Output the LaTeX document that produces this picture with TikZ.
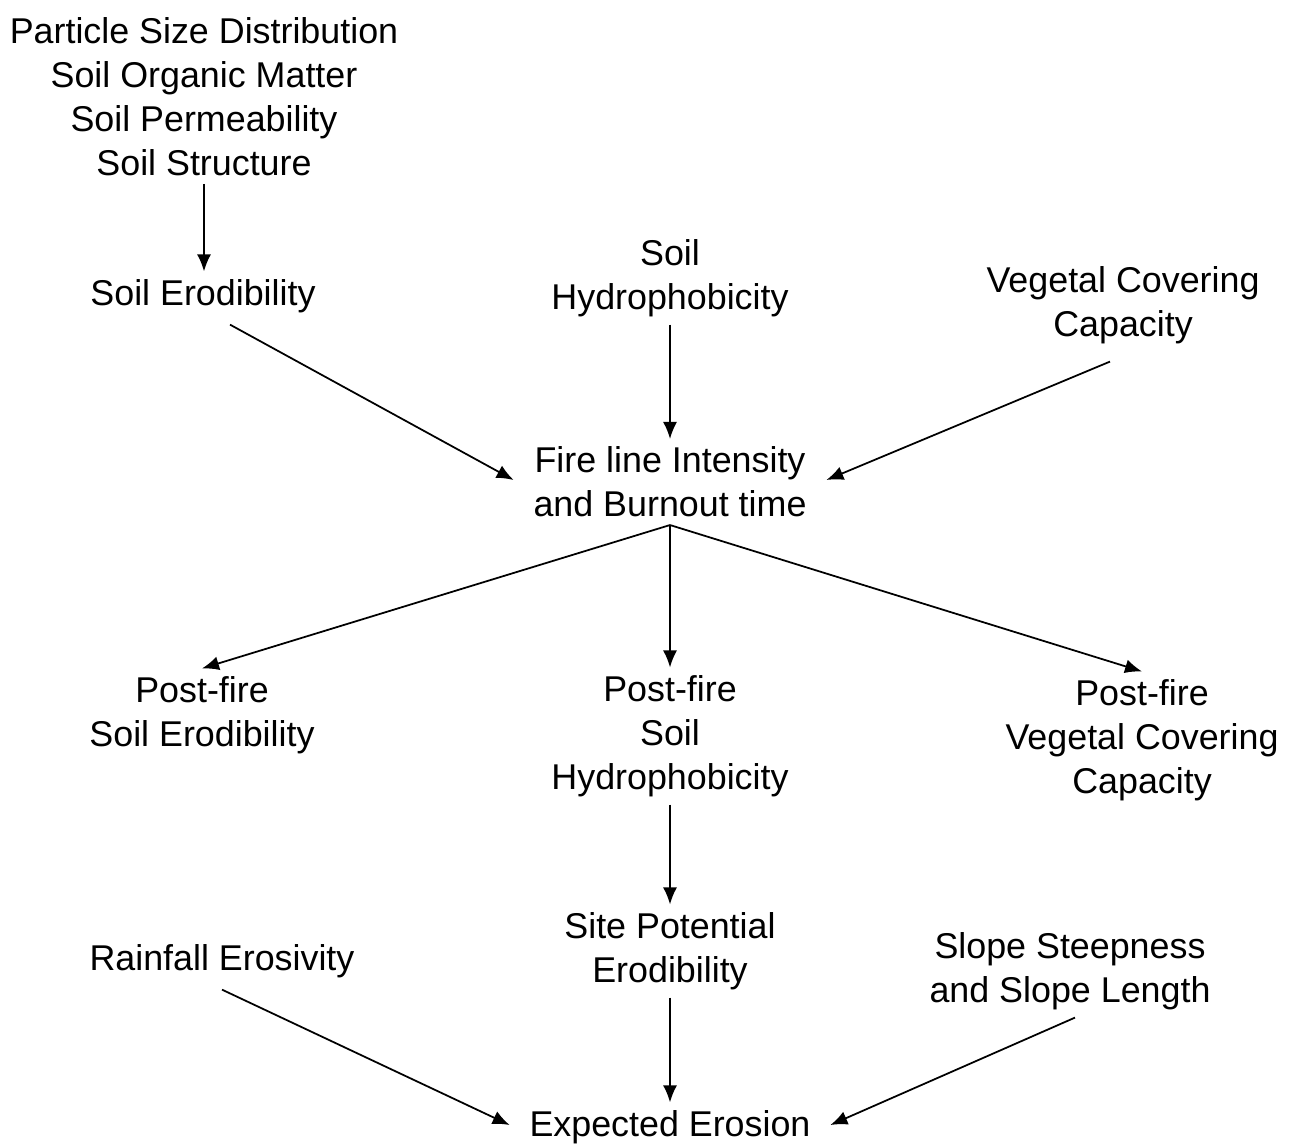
\documentclass[tikz,border=0pt]{standalone}
\usepackage{fontspec}
\setmainfont{Liberation Sans}
\usepackage{tikz}
\usetikzlibrary{arrows.meta,calc}
\usepackage{xcolor}

\begin{document}
\begin{tikzpicture}[x=0.02cm, y=-0.02cm, line width=1pt,
  every node/.style={align=center, font=\fontsize{20.4}{25}\selectfont, inner sep=4pt},
  arr/.style={-{Latex[length=3.4mm,width=2.8mm]}}]

\useasboundingbox (0,0) rectangle (1293,1147);

\node (partsize) at (204,97) {Particle Size Distribution\\Soil Organic Matter\\Soil Permeability\\Soil Structure};
\node (soilero) at (203,296) {Soil Erodibility};
\node (soilhyd) at (670,278) {Soil\\Hydrophobicity};
\node (vegcap) at (1123,305) {Vegetal Covering\\Capacity};

\node (fire) at (670,482) {Fire line Intensity\\and Burnout time};

\node (psoilero) at (202,715) {Post-fire\\Soil Erodibility};
\node (psoilhyd) at (670,736) {Post-fire\\Soil\\Hydrophobicity};
\node (pvegcap) at (1142,740) {Post-fire\\Vegetal Covering\\Capacity};

\node (rain) at (222,961) {Rainfall Erosivity};
\node (sitepot) at (670,951) {Site Potential\\Erodibility};
\node (slope) at (1070,971) {Slope Steepness\\and Slope Length};

\node (erosion) at (670,1127) {Expected Erosion};

\draw[arr] (partsize.south) -- (partsize.south |- soilero.north);

\draw[arr] ($(soilero.south)+(27,4)$) -- ($(fire.west)+(-12,-2)$);
\draw[arr] (soilhyd.south) -- (fire.north);
\draw[arr] ($(vegcap.south)+(-13,10)$) -- ($(fire.east)+(12,-2)$);

\draw[arr] (fire.south) -- (psoilero.north);
\draw[arr] (fire.south) -- (psoilhyd.north);
\draw[arr] (fire.south) -- (pvegcap.north);

\draw[arr] (psoilhyd.south) -- (sitepot.north);

\draw[arr] ($(rain.south)+(0,4)$) -- ($(erosion.west)+(-12,-2)$);
\draw[arr] (sitepot.south) -- (erosion.north);
\draw[arr] ($(slope.south)+(5,0)$) -- ($(erosion.east)+(12,-2)$);

\end{tikzpicture}
\end{document}
